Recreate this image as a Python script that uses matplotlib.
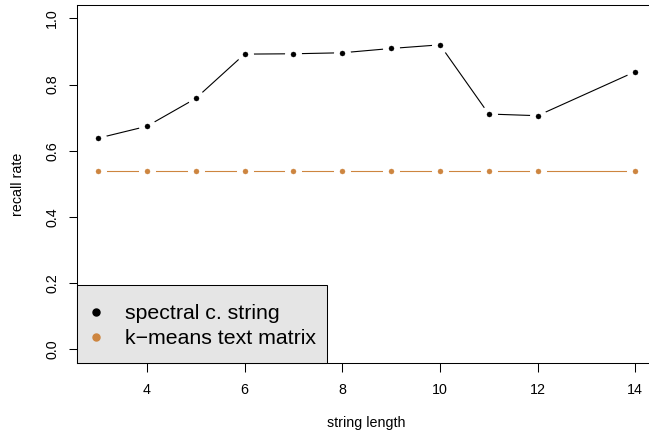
import matplotlib
matplotlib.use("Agg")
import matplotlib.pyplot as plt
from matplotlib.patches import Rectangle

plt.rcParams['font.family'] = ['Liberation Sans', 'DejaVu Sans']

# ---- data ----
string_length = [3, 4, 5, 6, 7, 8, 9, 10, 11, 12, 14]
spectral = [0.638, 0.674, 0.758, 0.892, 0.893, 0.896, 0.909, 0.920, 0.711, 0.706, 0.839]
kmeans = [0.538] * len(string_length)
series_names = ["spectral c. string", "k\u2212means text matrix"]
series_colors = ["black", "#CD853F"]
x_ticks = [4, 6, 8, 10, 12, 14]
y_ticks = [0.0, 0.2, 0.4, 0.6, 0.8, 1.0]

DPI = 100
fig = plt.figure(figsize=(6.49, 4.33), dpi=DPI)
W, H = 649, 433
left_px, right_px, top_px, bottom_px = 76.5, 656.8, 5.1, 362.7
ax = fig.add_axes([left_px / W, (H - bottom_px) / H,
                   (right_px - left_px) / W, (bottom_px - top_px) / H])

px = 72.0 / DPI  # points per pixel

for ys, col in zip([spectral, kmeans], series_colors):
    ax.plot(string_length, ys, color=col, lw=0.8, zorder=2,
            solid_capstyle='butt')
    # white disks create the gaps of R's type="b"
    ax.plot(string_length, ys, ls='none', marker='o', ms=17 * px,
            mfc='white', mec='none', zorder=3)
    ax.plot(string_length, ys, ls='none', marker='o', ms=5 * px,
            mfc=col, mec=col, mew=0.3, zorder=4)

ax.set_xlim(2.56, 14.44)
ax.set_ylim(-0.04, 1.04)
ax.set_xticks(x_ticks)
ax.set_xticklabels([str(t) for t in x_ticks])
ax.set_yticks(y_ticks)
ax.set_yticklabels([f"{t:.1f}" for t in y_ticks])

fs_tick = 14.3 * px
ax.tick_params(axis='both', direction='out', length=8.5 * px, width=0.75,
               labelsize=fs_tick, colors='black')
ax.tick_params(axis='x', pad=8.7)
for lab in ax.get_yticklabels():
    lab.set_rotation(90)
    lab.set_va('center')
    lab.set_ha('center')
ax.tick_params(axis='y', pad=11.5)

for s in ax.spines.values():
    s.set_linewidth(0.75)
    s.set_color('black')

ax.set_xlabel("string length", fontsize=fs_tick, va='center')
ax.xaxis.set_label_coords(0.5, (bottom_px - 423) / (bottom_px - top_px))
ax.set_ylabel("recall rate", fontsize=fs_tick, va='center')
ax.yaxis.set_label_coords((18 - left_px) / (right_px - left_px), 0.5)

# ---- legend (R style, bottom left) ----
aw = right_px - left_px
ah = bottom_px - top_px
leg_w = (326.7 - left_px) / aw
leg_h = (bottom_px - 285.0) / ah
ax.add_patch(Rectangle((0, 0), leg_w, leg_h, transform=ax.transAxes,
                       facecolor='#E5E5E5', edgecolor='black', lw=0.75,
                       zorder=5, clip_on=False))
mx = (95.7 - left_px) / aw
tx = (125.0 - left_px) / aw
row_centers = [312.3, 337.3]
for name, col, yc in zip(series_names, series_colors, row_centers):
    yf = (bottom_px - yc) / ah
    ax.plot([mx], [yf], transform=ax.transAxes, ls='none', marker='o',
            ms=7 * px, mfc=col, mec=col, zorder=6, clip_on=False)
    yb = (bottom_px - (yc + 7.0)) / ah
    ax.text(tx, yb, name, transform=ax.transAxes, fontsize=21.3 * px,
            va='baseline', ha='left', zorder=6)

fig.savefig("out.png", dpi=DPI)
